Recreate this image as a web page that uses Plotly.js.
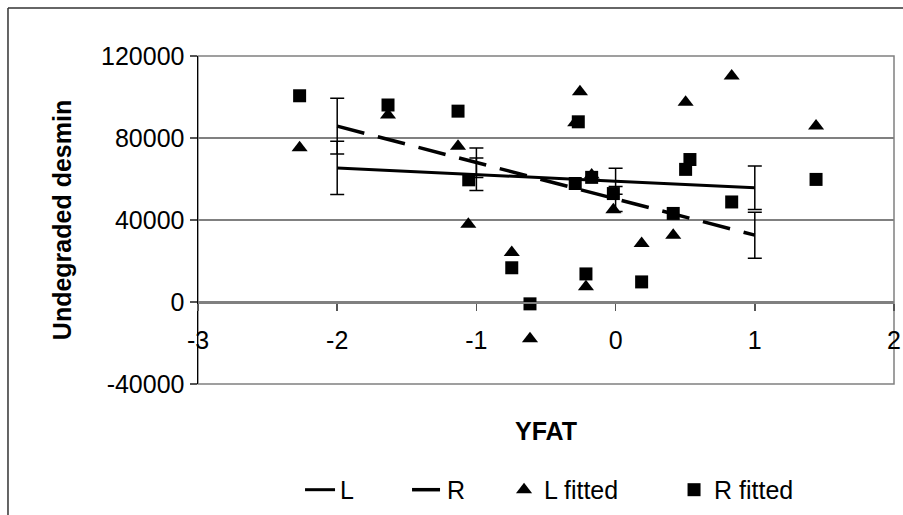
<!DOCTYPE html>
<html>
<head>
<meta charset="utf-8">
<script src="https://cdn.plot.ly/plotly-3.0.1.min.js"></script>
<style>
  html, body { margin: 0; padding: 0; background: #fff; }
  #chart { width: 903px; height: 515px; }
</style>
</head>
<body>
<div id="chart"></div>
<script>
// ---- data ----
var fitX = [-2, -1, 0, 1];
var lineL = [65400, 62300, 58900, 55700];
var lineR = [85800, 67900, 50300, 32600];
var errL = [13000, 7900, 6300, 10600];
var errR = [13600, 7200, 6100, 11200];

var lFittedX = [-2.27, -1.635, -1.132, -1.058, -0.746, -0.615, -0.29, -0.256, -0.213, -0.172, -0.016, 0.187, 0.414, 0.503, 0.834, 1.44];
var lFittedY = [75200, 91200, 76000, 37900, 24200, -17900, 87500, 102600, 7500, 62000, 45000, 28500, 32600, 97400, 110200, 85800];

var rFittedX = [-2.27, -1.635, -1.132, -1.055, -0.746, -0.615, -0.29, -0.268, -0.213, -0.172, -0.016, 0.187, 0.414, 0.503, 0.534, 0.834, 1.44];
var rFittedY = [100600, 96100, 93100, 59600, 16700, -900, 57800, 87900, 13700, 60800, 52900, 9800, 43200, 64700, 69500, 48800, 59800];

var xTickVals = [-3, -2, -1, 0, 1, 2];
var xTickText = ['-3', '-2', '-1', '0', '1', '2'];
var yTickVals = [-40000, 0, 40000, 80000, 120000];
var yTickText = ['-40000', '0', '40000', '80000', '120000'];

var FONT = 'Liberation Sans, Arial, Helvetica, sans-serif';

var traces = [
  {
    x: fitX, y: lineL, name: 'L', mode: 'lines', type: 'scatter', legendwidth: 62,
    line: {color: '#000', width: 3},
    error_y: {type: 'data', array: errL, visible: true, color: '#000', thickness: 1.5, width: 7}
  },
  {
    x: fitX, y: lineR, name: 'R', mode: 'lines', type: 'scatter', legendwidth: 52,
    line: {color: '#000', width: 3.5, dash: '28px,14px'},
    error_y: {type: 'data', array: errR, visible: true, color: '#000', thickness: 1.5, width: 7}
  },
  {
    x: lFittedX, y: lFittedY, name: 'L fitted', mode: 'markers', type: 'scatter', legendwidth: 125,
    marker: {symbol: 'triangle-up', size: 14, color: '#000'}
  },
  {
    x: rFittedX, y: rFittedY, name: 'R fitted', mode: 'markers', type: 'scatter',
    marker: {symbol: 'square', size: 13, color: '#000'}
  }
];

var layout = {
  width: 903, height: 515,
  margin: {l: 198, r: 9, t: 56, b: 131, pad: 0, autoexpand: false},
  paper_bgcolor: '#fff', plot_bgcolor: '#fff',
  font: {family: FONT, size: 25, color: '#000'},
  showlegend: true,
  legend: {
    orientation: 'h', x: 0.1466, xanchor: 'left', y: -0.323, yanchor: 'middle',
    font: {family: FONT, size: 25, color: '#000'}, bgcolor: 'rgba(0,0,0,0)'
  },
  xaxis: {
    range: [-3, 2], tickmode: 'array', tickvals: xTickVals, ticktext: xTickText,
    showgrid: false, zeroline: false, showline: true, linecolor: '#808080', linewidth: 1.5,
    anchor: 'free', position: 0.25,
    ticks: 'outside', ticklen: 7, tickcolor: '#555', tickwidth: 1.5,
    ticklabelstandoff: 8,
    tickfont: {family: FONT, size: 25, color: '#000'},
    title: {text: 'YFAT', font: {family: FONT, size: 25, color: '#000', weight: 'bold'}, standoff: 70},
    fixedrange: true
  },
  yaxis: {
    range: [-40000, 120000], tickmode: 'array', tickvals: yTickVals, ticktext: yTickText,
    showgrid: true, gridcolor: '#808080', gridwidth: 1.2,
    zeroline: false, showline: true, linecolor: '#000', linewidth: 1.5,
    ticks: 'outside', ticklen: 7, tickcolor: '#555', tickwidth: 1.5,
    tickfont: {family: FONT, size: 25, color: '#000'},
    title: {text: 'Undegraded desmin', font: {family: FONT, size: 25, color: '#000', weight: 'bold'}, standoff: 22},
    fixedrange: true
  },
  shapes: [
    {type: 'rect', xref: 'paper', yref: 'paper', x0: 0, x1: 1, y0: 0, y1: 1,
     line: {color: '#808080', width: 1.5}, layer: 'below'},
    {type: 'line', xref: 'paper', yref: 'paper', x0: -0.273, x1: -0.273, y0: -0.45, y1: 1.146,
     line: {color: '#333', width: 1.5}},
    {type: 'line', xref: 'paper', yref: 'paper', x0: -0.273, x1: 1.05, y0: 1.146, y1: 1.146,
     line: {color: '#333', width: 1.5}}
  ]
};

Plotly.newPlot('chart', traces, layout, {displayModeBar: false, staticPlot: true});
</script>
</body>
</html>
